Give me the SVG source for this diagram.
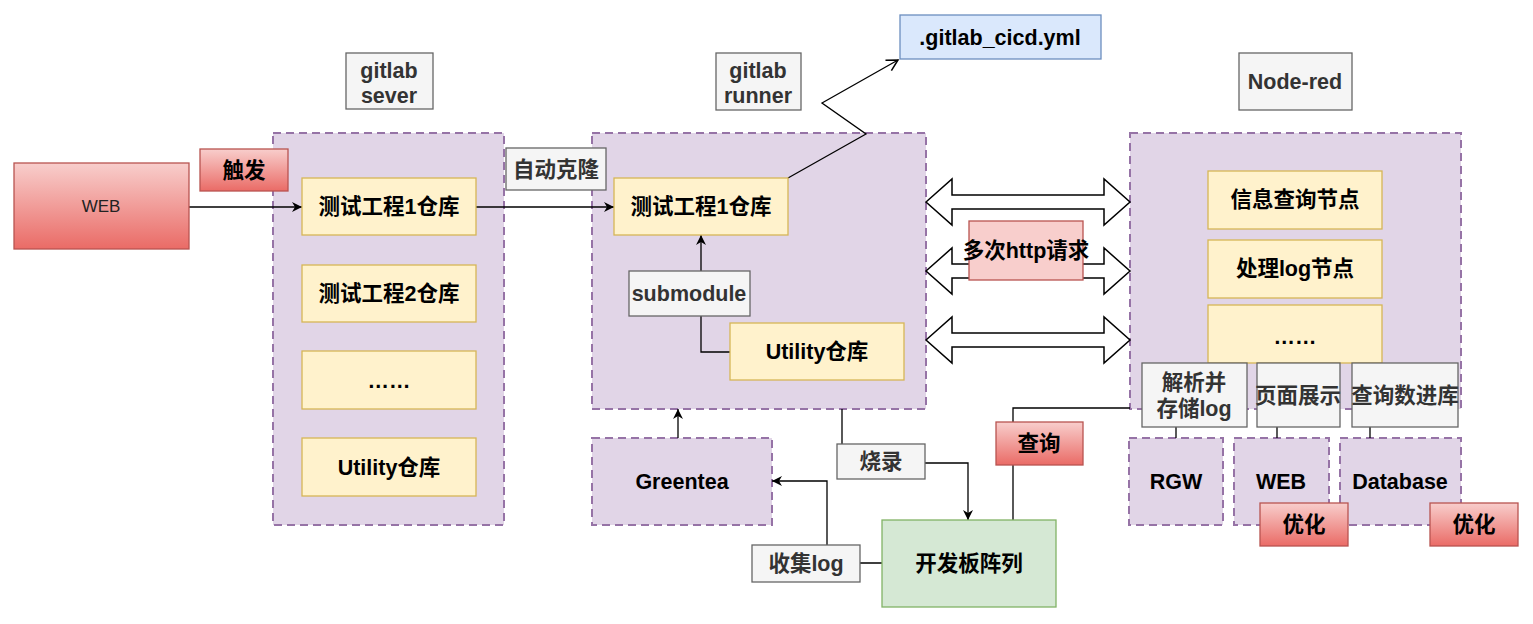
<svg xmlns="http://www.w3.org/2000/svg" width="1533" height="624" viewBox="0 0 1533 624">
<defs>
<linearGradient id="red" x1="0" y1="0" x2="0" y2="1">
<stop offset="0" stop-color="#f8cecc"/>
<stop offset="1" stop-color="#ea6b66"/>
</linearGradient>
<marker id="arr" markerUnits="userSpaceOnUse" markerWidth="12" markerHeight="10" refX="10" refY="5" orient="auto">
<path d="M0,0 L10,5 L0,10 L3,5 Z" fill="#000"/>
</marker>
<marker id="open" markerUnits="userSpaceOnUse" markerWidth="14" markerHeight="14" refX="12" refY="7" orient="auto">
<path d="M1,1 L12,7 L1,13" fill="none" stroke="#000" stroke-width="1.5"/>
</marker>
</defs>
<style>
text{font-family:"Liberation Sans","Noto Sans CJK SC",sans-serif;font-size:21.5px;font-weight:bold;text-anchor:middle;fill:#000}
.grp{fill:#e1d5e7;stroke:#9673a6;stroke-width:2;stroke-dasharray:8 5}
.yel{fill:#fff2cc;stroke:#d6b656;stroke-width:1.3}
.gry{fill:#f5f5f5;stroke:#666;stroke-width:1.3}
.gry-t{fill:#333}
.red{fill:url(#red);stroke:#b85450;stroke-width:1.3}
.blu{fill:#dae8fc;stroke:#6c8ebf;stroke-width:1.3}
.grn{fill:#d5e8d4;stroke:#82b366;stroke-width:1.3}
.pink{fill:#f8cecc;stroke:#b85450;stroke-width:1.3}
.e{fill:none;stroke:#000;stroke-width:1.3}
.dbl{fill:#fff;stroke:#000;stroke-width:1.5}
</style>

<!-- containers -->
<g id="gitlab-server-group"><rect class="grp" x="273" y="133" width="231" height="392"/></g>
<g id="gitlab-runner-group"><rect class="grp" x="592" y="133" width="334" height="276"/></g>
<g id="node-red-group"><rect class="grp" x="1130" y="133" width="331" height="276"/></g>
<g id="greentea"><rect class="grp" x="592" y="438" width="180" height="87"/><text x="682" y="489">Greentea</text></g>
<g id="rgw"><rect class="grp" x="1129" y="438" width="94" height="87"/><text x="1176" y="489">RGW</text></g>
<g id="web-right"><rect class="grp" x="1234" y="438" width="95" height="87"/><text x="1281" y="489">WEB</text></g>
<g id="database"><rect class="grp" x="1340" y="438" width="121" height="87"/><text x="1400" y="489">Database</text></g>

<!-- connectors -->
<g id="connectors">
<path class="e" d="M189,207 L302,207" marker-end="url(#arr)"/>
<path class="e" d="M476,207 L614,207" marker-end="url(#arr)"/>
<path class="e" d="M730,352 L701,352 L701,235" marker-end="url(#arr)"/>
<path class="e" d="M788,178 L866,134 L822,103 L898,60" marker-end="url(#open)"/>
<path class="e" d="M678,438 L678,409" marker-end="url(#arr)"/>
<path class="e" d="M842,409 L842,463 L968,463 L968,520" marker-end="url(#arr)"/>
<path class="e" d="M882,563 L827,563 L827,481 L772,481" marker-end="url(#arr)"/>
<path class="e" d="M1013,520 L1013,408 L1130,408"/>
<path class="e" d="M1176,427 L1176,438"/>
<path class="e" d="M1277,427 L1277,438"/>
<path class="e" d="M1370,427 L1370,438"/>
<path class="dbl" d="M926,202 L952,179 L952,195 L1104,195 L1104,179 L1130,202 L1104,225 L1104,209 L952,209 L952,225 Z"/>
<path class="dbl" d="M926,271 L952,248 L952,264 L1104,264 L1104,248 L1130,271 L1104,294 L1104,278 L952,278 L952,294 Z"/>
<path class="dbl" d="M926,340 L952,317 L952,333 L1104,333 L1104,317 L1130,340 L1104,363 L1104,347 L952,347 L952,363 Z"/>
</g>

<!-- nodes -->
<g id="web"><rect class="red" x="14" y="163" width="175" height="86"/><text x="101" y="212" style="font-weight:normal;font-size:17px;fill:#222">WEB</text></g>
<g id="trigger"><rect class="red" x="200" y="149" width="88" height="42"/><text x="244" y="178">触发</text></g>
<g id="gitlab-sever-label"><rect class="gry" x="346" y="53" width="87" height="56"/><text class="gry-t" x="389" y="78">gitlab</text><text class="gry-t" x="389" y="103">sever</text></g>
<g id="s-proj1"><rect class="yel" x="302" y="178" width="174" height="57"/><text x="389" y="214">测试工程1仓库</text></g>
<g id="s-proj2"><rect class="yel" x="302" y="265" width="174" height="57"/><text x="389" y="301">测试工程2仓库</text></g>
<g id="s-more"><rect class="yel" x="302" y="351" width="174" height="58"/><text x="389" y="388">……</text></g>
<g id="s-utility"><rect class="yel" x="302" y="438" width="174" height="58"/><text x="389" y="475">Utility仓库</text></g>
<g id="auto-clone"><rect class="gry" x="506" y="148" width="100" height="42"/><text class="gry-t" x="556" y="177">自动克隆</text></g>
<g id="gitlab-runner-label"><rect class="gry" x="716" y="53" width="85" height="57"/><text class="gry-t" x="758" y="78">gitlab</text><text class="gry-t" x="758" y="103">runner</text></g>
<g id="r-proj1"><rect class="yel" x="614" y="178" width="174" height="57"/><text x="701" y="214">测试工程1仓库</text></g>
<g id="submodule"><rect class="gry" x="629" y="271" width="121" height="45"/><text class="gry-t" x="689" y="301">submodule</text></g>
<g id="r-utility"><rect class="yel" x="730" y="323" width="174" height="57"/><text x="817" y="359">Utility仓库</text></g>
<g id="yml"><rect class="blu" x="900" y="15" width="201" height="44"/><text x="1000" y="45">.gitlab_cicd.yml</text></g>
<g id="burn"><rect class="gry" x="837" y="444" width="88" height="35"/><text class="gry-t" x="881" y="469">烧录</text></g>
<g id="board"><rect class="grn" x="882" y="520" width="174" height="87"/><text x="969" y="571">开发板阵列</text></g>
<g id="collect-log"><rect class="gry" x="752" y="545" width="108" height="37"/><text class="gry-t" x="806" y="571">收集log</text></g>
<g id="query"><rect class="red" x="996" y="422" width="87" height="43"/><text x="1039" y="451">查询</text></g>
<g id="http"><rect class="pink" x="969" y="221" width="114" height="59"/><text x="1026" y="258">多次http请求</text></g>
<g id="node-red-label"><rect class="gry" x="1239" y="53" width="113" height="57"/><text class="gry-t" x="1295" y="89">Node-red</text></g>
<g id="info-node"><rect class="yel" x="1208" y="171" width="174" height="58"/><text x="1295" y="207">信息查询节点</text></g>
<g id="log-node"><rect class="yel" x="1208" y="240" width="174" height="58"/><text x="1295" y="276">处理log节点</text></g>
<g id="nr-more"><rect class="yel" x="1208" y="305" width="174" height="58"/><text x="1295" y="344">……</text></g>
<g id="parse-store"><rect class="gry" x="1142" y="363" width="105" height="64"/><text class="gry-t" x="1194" y="390">解析并</text><text class="gry-t" x="1194" y="416">存储log</text></g>
<g id="page-show"><rect class="gry" x="1257" y="363" width="83" height="64"/><text class="gry-t" x="1298" y="403">页面展示</text></g>
<g id="query-db"><rect class="gry" x="1352" y="363" width="106" height="64"/><text class="gry-t" x="1405" y="403">查询数进库</text></g>
<g id="opt1"><rect class="red" x="1260" y="503" width="88" height="43"/><text x="1304" y="532">优化</text></g>
<g id="opt2"><rect class="red" x="1430" y="503" width="88" height="43"/><text x="1474" y="532">优化</text></g>
</svg>
